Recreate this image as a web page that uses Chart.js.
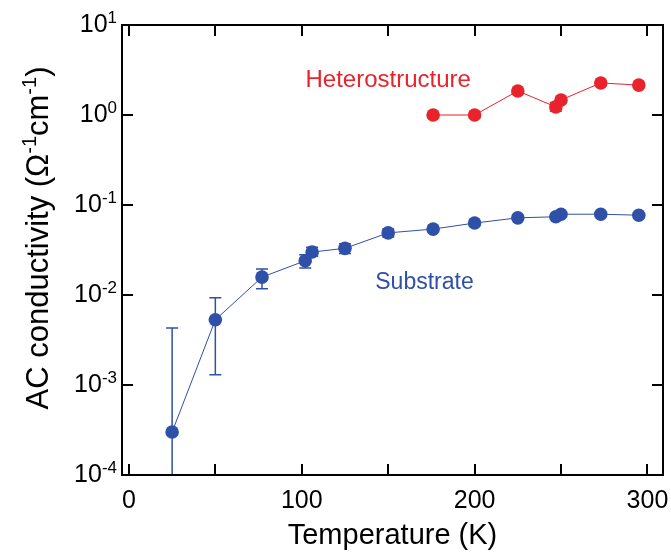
<!DOCTYPE html>
<html>
<head>
<meta charset="utf-8">
<script src="https://cdn.jsdelivr.net/npm/chart.js@4.4.1/dist/chart.umd.min.js"></script>
<style>
  html, body { margin: 0; padding: 0; background: #fff; }
  #wrap { width: 671px; height: 555px; }
</style>
</head>
<body>
<div id="wrap"><canvas id="chart"></canvas></div>
<script>
// substrate data (blue)
const subTemps = [25, 50, 77, 102, 106, 125, 150, 176, 200, 225, 247, 250, 273, 295];
const subValues = [3.0e-4, 5.3e-3, 1.58e-2, 2.4e-2, 3.0e-2, 3.3e-2, 4.9e-2, 5.4e-2, 6.3e-2, 7.2e-2, 7.4e-2, 7.9e-2, 7.9e-2, 7.7e-2];
const subErrLow = [1e-5, 1.3e-3, 1.17e-2, 2.0e-2, 2.7e-2, 2.9e-2, 4.4e-2, null, null, null, null, null, null, null];
const subErrHigh = [4.3e-3, 9.3e-3, 1.95e-2, 2.8e-2, 3.4e-2, 3.7e-2, 5.4e-2, null, null, null, null, null, null, null];

// heterostructure data (red)
const hetTemps = [176, 200, 225, 247, 250, 273, 295];
const hetValues = [1.0, 1.0, 1.85, 1.23, 1.47, 2.27, 2.15];
const hetErrLow = [null, null, null, 1.1, null, null, null];
const hetErrHigh = [null, null, null, 1.38, null, null, null];

const xTicks = [0, 50, 100, 150, 200, 250, 300];
const xLabels = ['0', '', '100', '', '200', '', '300'];
const yTicks = [1e-4, 1e-3, 1e-2, 1e-1, 1, 10];
const yExponents = ['-4', '-3', '-2', '-1', '0', '1'];

const BLUE = '#2f50a8';
const RED = '#e8232b';
const FONT = 'Arial, "Liberation Sans", sans-serif';

const toPoints = (xs, ys) => xs.map((x, i) => ({ x: x, y: ys[i] }));

const errorBars = {
  id: 'errorBars',
  beforeDatasetsDraw(chart) {
    const ctx = chart.ctx;
    const xs = chart.scales.x, ys = chart.scales.y;
    const area = chart.chartArea;
    ctx.save();
    ctx.beginPath();
    ctx.rect(area.left, area.top, area.right - area.left, area.bottom - area.top);
    ctx.clip();
    chart.data.datasets.forEach(ds => {
      ctx.strokeStyle = ds.borderColor;
      ctx.lineWidth = 1.5;
      ds.data.forEach((p, i) => {
        const lo = ds.errLow[i], hi = ds.errHigh[i];
        if (lo == null || hi == null) return;
        const px = xs.getPixelForValue(p.x);
        const yl = ys.getPixelForValue(lo), yh = ys.getPixelForValue(hi);
        ctx.beginPath();
        ctx.moveTo(px, yl); ctx.lineTo(px, yh);
        ctx.moveTo(px - 6, yh); ctx.lineTo(px + 6, yh);
        ctx.moveTo(px - 6, yl); ctx.lineTo(px + 6, yl);
        ctx.stroke();
      });
    });
    ctx.restore();
  }
};

const frame = {
  id: 'frame',
  afterDraw(chart) {
    const ctx = chart.ctx;
    const { left, right, top, bottom } = chart.chartArea;
    const xs = chart.scales.x, ys = chart.scales.y;
    const tick = 11;
    ctx.save();
    ctx.strokeStyle = '#000';
    ctx.lineWidth = 2;
    ctx.strokeRect(left, top, right - left, bottom - top);
    ctx.beginPath();
    xTicks.forEach(v => {
      const px = Math.round(xs.getPixelForValue(v));
      ctx.moveTo(px, bottom); ctx.lineTo(px, bottom - tick);
      ctx.moveTo(px, top); ctx.lineTo(px, top + tick);
    });
    yTicks.forEach(v => {
      const py = Math.round(ys.getPixelForValue(v));
      ctx.moveTo(left, py); ctx.lineTo(left + tick, py);
      ctx.moveTo(right, py); ctx.lineTo(right - tick, py);
    });
    ctx.stroke();

    // y tick labels as 10^n
    ctx.fillStyle = '#000';
    yTicks.forEach((v, i) => {
      const py = ys.getPixelForValue(v);
      ctx.font = '17px ' + FONT;
      const supW = ctx.measureText(yExponents[i]).width;
      const baseRight = left - 5 - supW;
      ctx.textAlign = 'left';
      ctx.textBaseline = 'alphabetic';
      ctx.fillText(yExponents[i], baseRight, py - 2);
      ctx.font = '25px ' + FONT;
      ctx.textAlign = 'right';
      ctx.textBaseline = 'middle';
      ctx.fillText('10', baseRight, py);
    });

    // y axis title with superscripts
    const parts = [
      { t: 'AC conductivity (\u03a9', sup: false },
      { t: '-1', sup: true },
      { t: 'cm', sup: false },
      { t: '-1', sup: true },
      { t: ')', sup: false }
    ];
    const mainFont = '31px ' + FONT, supFont = '20px ' + FONT;
    let total = 0;
    parts.forEach(p => { ctx.font = p.sup ? supFont : mainFont; p.w = ctx.measureText(p.t).width; total += p.w; });
    ctx.translate(37, 238);
    ctx.rotate(-Math.PI / 2);
    ctx.textAlign = 'left';
    ctx.textBaseline = 'alphabetic';
    let cx = -total / 2;
    parts.forEach(p => {
      ctx.font = p.sup ? supFont : mainFont;
      ctx.fillText(p.t, cx, p.sup ? -1 : 11);
      cx += p.w;
    });
    ctx.restore();

    // series labels
    ctx.save();
    ctx.textAlign = 'center';
    ctx.textBaseline = 'middle';
    ctx.font = '24px ' + FONT;
    ctx.fillStyle = RED;
    ctx.fillText('Heterostructure', xs.getPixelForValue(150), ys.getPixelForValue(2.45));
    ctx.font = '23px ' + FONT;
    ctx.fillStyle = BLUE;
    ctx.fillText('Substrate', xs.getPixelForValue(171), ys.getPixelForValue(0.0136));
    ctx.restore();
  }
};

new Chart(document.getElementById('chart'), {
  type: 'scatter',
  data: {
    datasets: [
      {
        label: 'Substrate',
        data: toPoints(subTemps, subValues),
        errLow: subErrLow,
        errHigh: subErrHigh,
        showLine: true,
        borderColor: BLUE,
        backgroundColor: BLUE,
        borderWidth: 1,
        pointRadius: 6.8,
        pointBorderWidth: 0,
        clip: false
      },
      {
        label: 'Heterostructure',
        data: toPoints(hetTemps, hetValues),
        errLow: hetErrLow,
        errHigh: hetErrHigh,
        showLine: true,
        borderColor: RED,
        backgroundColor: RED,
        borderWidth: 1,
        pointRadius: 6.8,
        pointBorderWidth: 0,
        clip: false
      }
    ]
  },
  options: {
    responsive: true,
    maintainAspectRatio: false,
    animation: false,
    layout: { padding: { top: 25, right: 8, left: 0, bottom: 0 } },
    plugins: { legend: { display: false }, tooltip: { enabled: false } },
    scales: {
      x: {
        type: 'linear',
        min: -4,
        max: 309,
        afterBuildTicks: s => { s.ticks = xTicks.map(v => ({ value: v })); },
        afterFit: s => { s.height = 80; s.paddingLeft = 0; s.paddingRight = 0; },
        grid: { display: false, drawTicks: false },
        border: { display: false },
        ticks: {
          autoSkip: false,
          maxRotation: 0,
          padding: 11,
          color: '#000',
          font: { family: FONT, size: 25 },
          callback: (v, i) => xLabels[i]
        },
        title: {
          display: true,
          text: 'Temperature (K)',
          color: '#000',
          font: { family: FONT, size: 29 },
          padding: { top: 0, bottom: 2 }
        }
      },
      y: {
        type: 'logarithmic',
        min: 1e-4,
        max: 10,
        afterBuildTicks: s => { s.ticks = yTicks.map(v => ({ value: v })); },
        afterFit: s => { s.width = 122; s.paddingTop = 0; s.paddingBottom = 0; },
        grid: { display: false, drawTicks: false },
        border: { display: false },
        ticks: { display: false }
      }
    }
  },
  plugins: [errorBars, frame]
});
</script>
</body>
</html>
